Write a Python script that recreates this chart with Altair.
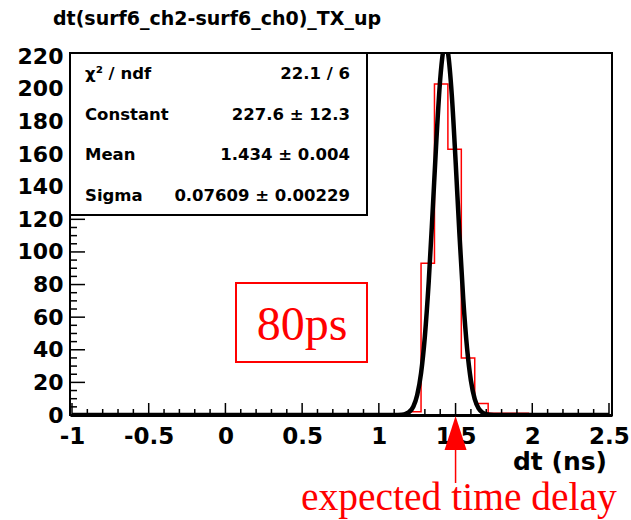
import altair as alt
import pandas as pd

# ---- data ----
title_text = "dt(surf6_ch2-surf6_ch0)_TX_up"
bin_edges = [1.1875, 1.275, 1.3625, 1.45, 1.5375, 1.625, 1.7125, 1.8, 1.8875, 1.975]
bin_counts = [2, 93, 203, 163, 35, 7, 1, 1, 1]

fit_x = [-1.0, 1.10, 1.15, 1.175, 1.20, 1.225, 1.25, 1.275, 1.30, 1.325, 1.35, 1.375,
         1.40, 1.425, 1.434, 1.45, 1.475, 1.50, 1.525, 1.55, 1.575, 1.60, 1.625,
         1.65, 1.675, 1.70, 1.75, 1.80, 2.5]
fit_y = [0, 0, 0.2, 0.7, 2.0, 5.2, 12.2, 25.6, 48.3, 81.6, 123.8, 168.5,
         206, 226, 227.6, 222.6, 196.8, 156.2, 111.3, 71.2, 40.9, 21.1, 9.7,
         4.1, 1.5, 0.5, 0, 0, 0]

stat_labels = ["\u03c7\u00b2 / ndf", "Constant", "Mean", "Sigma"]
stat_values = ["22.1 / 6", "227.6 \u00b1 12.3", "1.434 \u00b1 0.004", "0.07609 \u00b1 0.00229"]

x_major = [-1, -0.5, 0, 0.5, 1, 1.5, 2, 2.5]
y_major = [0, 20, 40, 60, 80, 100, 120, 140, 160, 180, 200, 220]
expected_delay = [1.5]
x_title = "dt (ns)"
box_text = "80ps"
arrow_text = "expected time delay"

# ---- derived tables ----
hx = [bin_edges[0]] + bin_edges[:-1] + [bin_edges[-1]]
hy = [0] + bin_counts + [0]
hist_df = pd.DataFrame({"x": hx, "y": hy, "o": list(range(len(hx)))})
fit_df = pd.DataFrame({"x": fit_x, "y": fit_y, "o": list(range(len(fit_x)))})

x_minor = [round(-1 + 0.1 * i, 2) for i in range(36)]
x_minor = [v for v in x_minor if all(abs(v - m) > 1e-6 for m in x_major)]
y_minor = [v for v in range(0, 225, 5) if v % 20 != 0]

W, H = 542, 362
XD = [-1.013, 2.5196]
YD = [0, 222]

FONT = "DejaVu Sans"

xs = alt.Scale(domain=XD, nice=False, zero=False)
ys = alt.Scale(domain=YD, nice=False)
x_axis = alt.Axis(values=x_major, labelExpr="'' + datum.value",
                  labelFont=FONT, labelFontWeight="bold", labelFontSize=23,
                  labelColor="black", labelPadding=10, labelFlush=False,
                  labelOverlap=False, ticks=False, tickSize=0, grid=False,
                  domainColor="black", domainWidth=3, title=None)
y_axis = alt.Axis(values=y_major, labelFont=FONT, labelFontWeight="bold",
                  labelFontSize=22, labelColor="black", labelPadding=7,
                  labelFlush=False, labelOverlap=False, ticks=False,
                  tickSize=0, grid=False, domain=False, title=None)


def X(field="x"):
    return alt.X(field + ":Q", scale=xs, axis=x_axis)


def Y(field="y"):
    return alt.Y(field + ":Q", scale=ys, axis=y_axis)


# ticks (inward, ROOT style)
xmin_df = pd.DataFrame({"x": x_minor})
xmaj_df = pd.DataFrame({"x": x_major})
ymin_df = pd.DataFrame({"y": y_minor})
ymaj_df = pd.DataFrame({"y": y_major})

hist = alt.Chart(hist_df).mark_line(color="#ff0000", strokeWidth=1.5,
                                    interpolate="step-after", clip=True).encode(
    x=X(), y=Y(), order="o:Q")

fit = alt.Chart(fit_df).mark_line(color="black", strokeWidth=4.5,
                                  interpolate="monotone", clip=True).encode(
    x=X(), y=Y(), order="o:Q")

tick_xmin = alt.Chart(xmin_df).mark_rule(color="black", strokeWidth=1.5).encode(
    x=X(), y=alt.value(H), y2=alt.value(H - 6))
tick_xmaj = alt.Chart(xmaj_df).mark_rule(color="black", strokeWidth=1.5).encode(
    x=X(), y=alt.value(H), y2=alt.value(H - 12))
tick_ymin = alt.Chart(ymin_df).mark_rule(color="black", strokeWidth=1.5).encode(
    y=Y(), x=alt.value(0), x2=alt.value(7))
tick_ymaj = alt.Chart(ymaj_df).mark_rule(color="black", strokeWidth=1.5).encode(
    y=Y(), x=alt.value(0), x2=alt.value(15))

one = pd.DataFrame({"k": [0]})

stats_box = alt.Chart(one).mark_rect(fill="white", stroke="black", strokeWidth=2).encode(
    x=alt.value(0), x2=alt.value(297), y=alt.value(0), y2=alt.value(162))

layers = [hist, tick_xmin, tick_xmaj, tick_ymin, tick_ymaj, fit, stats_box]

row_base = [26, 67, 107, 148]
for lab, val, yb in zip(stat_labels, stat_values, row_base):
    d = pd.DataFrame({"lab": [lab], "val": [val]})
    layers.append(alt.Chart(d).mark_text(align="left", baseline="alphabetic", font=FONT,
                                         fontWeight="bold", fontSize=16.5, color="black").encode(
        text="lab:N", x=alt.value(15), y=alt.value(yb)))
    layers.append(alt.Chart(d).mark_text(align="right", baseline="alphabetic", font=FONT,
                                         fontWeight="bold", fontSize=16.5, color="black").encode(
        text="val:N", x=alt.value(280), y=alt.value(yb)))

# 80ps annotation box
layers.append(alt.Chart(one).mark_rect(fillOpacity=0, stroke="#ff0000", strokeWidth=2).encode(
    x=alt.value(166), x2=alt.value(297), y=alt.value(230), y2=alt.value(309)))
layers.append(alt.Chart(pd.DataFrame({"t": [box_text]})).mark_text(
    align="center", baseline="alphabetic", font="Liberation Serif", fontSize=48,
    color="#ff0000").encode(text="t:N", x=alt.value(232), y=alt.value(287)))

# expected time delay arrow
exp_df = pd.DataFrame({"x": expected_delay})
layers.append(alt.Chart(exp_df).mark_rule(color="#ff0000", strokeWidth=1.5).encode(
    x=X(), y=alt.value(395), y2=alt.value(430)))
layers.append(alt.Chart(exp_df).mark_point(
    shape="M0,-1L0.647,1L-0.647,1Z", filled=True, color="#ff0000", opacity=1,
    size=1156, strokeWidth=0).encode(x=X(), y=alt.value(380)))
layers.append(alt.Chart(pd.DataFrame({"t": [arrow_text]})).mark_text(
    align="left", baseline="alphabetic", font="Liberation Serif", fontSize=39.5,
    color="#ff0000").encode(text="t:N", x=alt.value(231), y=alt.value(457)))

# axis title and chart title
layers.append(alt.Chart(pd.DataFrame({"t": [x_title]})).mark_text(
    align="right", baseline="alphabetic", font=FONT, fontWeight="bold", fontSize=25,
    color="black").encode(text="t:N", x=alt.value(537), y=alt.value(417)))
layers.append(alt.Chart(pd.DataFrame({"t": [title_text]})).mark_text(
    align="left", baseline="alphabetic", font=FONT, fontWeight="bold", fontSize=19,
    color="black").encode(text="t:N", x=alt.value(-17), y=alt.value(-28)))

chart = alt.layer(*layers).properties(
    width=W, height=H,
    padding={"left": 70, "top": 53, "right": 19, "bottom": 105},
    autosize=alt.AutoSizeParams(type="none"),
    background="white",
).configure_view(stroke="black", strokeWidth=2)

chart.save("out.html", embed_options={"renderer": "svg", "actions": False})
